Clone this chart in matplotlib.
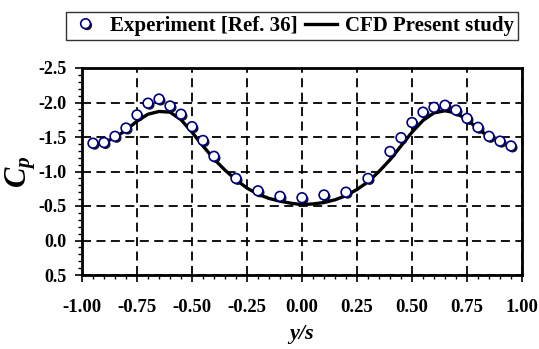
import matplotlib.pyplot as plt
import matplotlib.patheffects as pe
from matplotlib.ticker import MultipleLocator

plt.rcParams['font.family'] = ['Liberation Serif', 'DejaVu Serif']
plt.rcParams['font.weight'] = 'bold'
plt.rcParams['mathtext.fontset'] = 'custom'
plt.rcParams['mathtext.it'] = 'Liberation Serif:italic:bold'
plt.rcParams['mathtext.rm'] = 'Liberation Serif:bold'

# Experiment [Ref. 36]
exp_x = [-0.95, -0.90, -0.85, -0.80, -0.75, -0.70, -0.65, -0.60, -0.55, -0.50,
         -0.45, -0.40, -0.30, -0.20, -0.10, 0.00, 0.10, 0.20, 0.30, 0.40,
         0.45, 0.50, 0.55, 0.60, 0.65, 0.70, 0.75, 0.80, 0.85, 0.90, 0.95]
exp_cp = [-1.41, -1.42, -1.51, -1.63, -1.82, -1.99, -2.05, -1.95, -1.83, -1.65,
          -1.45, -1.22, -0.90, -0.72, -0.64, -0.62, -0.66, -0.70, -0.90, -1.29,
          -1.49, -1.71, -1.86, -1.93, -1.96, -1.89, -1.77, -1.64, -1.51, -1.44, -1.37]

# CFD present study
cfd_x = [-0.90, -0.85, -0.80, -0.75, -0.70, -0.65, -0.60, -0.55, -0.50, -0.45,
         -0.40, -0.35, -0.30, -0.25, -0.20, -0.15, -0.10, -0.05, 0.00, 0.05,
         0.10, 0.15, 0.20, 0.25, 0.30, 0.35, 0.40, 0.45, 0.50, 0.55, 0.60,
         0.65, 0.70, 0.75, 0.80, 0.85]
cfd_cp = [-1.42, -1.49, -1.60, -1.73, -1.83, -1.87, -1.86, -1.75, -1.57, -1.37,
          -1.18, -1.02, -0.88, -0.76, -0.67, -0.61, -0.57, -0.54, -0.52, -0.53,
          -0.55, -0.59, -0.65, -0.74, -0.85, -1.00, -1.17, -1.37, -1.57, -1.74,
          -1.85, -1.88, -1.85, -1.75, -1.62, -1.50]

fig = plt.figure(figsize=(5.39, 3.49), dpi=100)
ax = fig.add_axes([82/539, 1 - 275/349, 440/539, 207/349])

ax.plot(cfd_x, cfd_cp, color='black', lw=2.4, zorder=3, label='CFD Present study')
ax.plot(exp_x, exp_cp, 'o', ms=7, mfc='white', mec='#000080', mew=1.2, zorder=4,
        label='Experiment [Ref. 36]',
        path_effects=[pe.SimplePatchShadow(offset=(1.2, -1.2), shadow_rgbFace='black', alpha=0.9),
                      pe.Normal()])

ax.set_xlim(-1.0, 1.0)
ax.set_ylim(0.5, -2.5)
ax.xaxis.set_major_locator(MultipleLocator(0.25))
ax.xaxis.set_minor_locator(MultipleLocator(0.05))
ax.yaxis.set_major_locator(MultipleLocator(0.5))
ax.yaxis.set_minor_locator(MultipleLocator(0.1))
ax.xaxis.set_major_formatter(plt.FormatStrFormatter('%.2f'))
ax.yaxis.set_major_formatter(plt.FormatStrFormatter('%.1f'))
ax.tick_params(which='major', direction='out', length=5, width=1.2)
ax.tick_params(which='minor', direction='out', length=3, width=1.0)
ax.tick_params(axis='x', which='major', labelsize=13.5, pad=12)
ax.tick_params(axis='y', which='major', labelsize=13, pad=6)
for lab in ax.get_xticklabels() + ax.get_yticklabels():
    lab.set_fontweight('bold')

ax.grid(True, which='major', color='black', ls=(0, (5, 3)), lw=1.3)
for s in ax.spines.values():
    s.set_linewidth(2)

ax.set_xlabel('y/s', fontsize=16, style='italic', fontweight='bold', labelpad=6)
ax.set_ylabel('$\\mathit{C_p}$', fontsize=22, labelpad=0)

handles, labels = ax.get_legend_handles_labels()
fig.legend(handles[::-1], labels[::-1], loc='center', bbox_to_anchor=(292/539, 1 - 26/349),
           ncol=2, frameon=True, fancybox=False, edgecolor='black',
           handlelength=1.5, handletextpad=0.4, columnspacing=0.4, borderpad=0.2,
           prop={'weight': 'bold', 'size': 15})

fig.savefig('out.png', dpi=100)
